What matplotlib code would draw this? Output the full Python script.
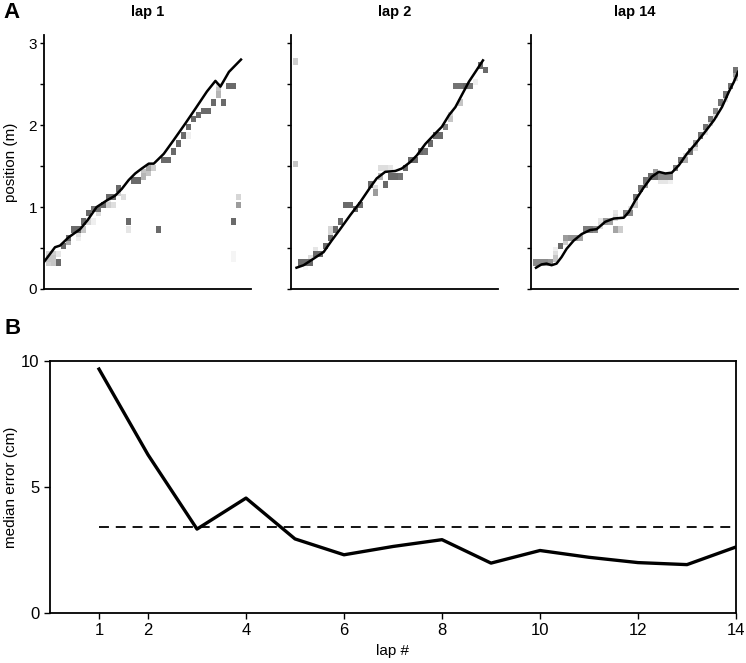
import numpy as np
import matplotlib
matplotlib.use("Agg")
import matplotlib.pyplot as plt
from matplotlib.colors import LinearSegmentedColormap

plt.rcParams['font.family'] = ['Liberation Sans', 'DejaVu Sans']

# ---- panel A: actual position (line) per lap, t in decoding bins ----
lap1_t = [-0.4, 1.8, 2.8, 4.5, 6.8, 8.3, 10.1, 12.1, 13.8, 15.1, 16.5, 17.8, 19.1, 20.5,
          21.5, 23.5, 25.5, 27.8, 29.8, 32.1, 33.8, 34.8, 36.5, 38.9]
lap1_pos = [0.33, 0.51, 0.53, 0.63, 0.73, 0.84, 1.0, 1.08, 1.14, 1.22, 1.33, 1.41, 1.47, 1.53,
            1.53, 1.65, 1.82, 2.02, 2.20, 2.41, 2.54, 2.47, 2.65, 2.80]

lap2_t = [0.7, 2.1, 4.1, 6.1, 7.7, 9.4, 11.4, 13.4, 15.4, 16.7, 18.4, 20.4, 21.7, 23.4,
          24.7, 26.4, 28.1, 29.7, 31.1, 32.4, 33.7, 35.1, 36.4, 37.9]
lap2_pos = [0.26, 0.29, 0.37, 0.45, 0.59, 0.73, 0.90, 1.06, 1.24, 1.35, 1.43, 1.44, 1.47, 1.55,
            1.63, 1.77, 1.88, 1.98, 2.12, 2.22, 2.37, 2.53, 2.65, 2.79]

lap14_t = [0.6, 1.7, 2.7, 3.7, 4.7, 5.7, 6.7, 8.1, 9.7, 11.4, 12.7, 14.4, 16.1, 18.1, 19.1,
           20.4, 22.1, 23.7, 25.1, 26.4, 27.7, 29.1, 30.7, 32.4, 34.1, 36.1, 37.7, 39.1, 40.1, 40.9]
lap14_pos = [0.26, 0.30, 0.31, 0.29, 0.31, 0.39, 0.49, 0.59, 0.67, 0.72, 0.73, 0.82, 0.86, 0.87, 0.94,
             1.08, 1.24, 1.37, 1.43, 1.41, 1.42, 1.51, 1.65, 1.77, 1.90, 2.06, 2.22, 2.41, 2.53, 2.65]

# ---- decoded posterior cells: (time bin, position bin of 5 cm, darkness 0-1) ----
lap1_cells = [(0, 6, .3), (0, 7, .35), (0, 8, .25), (1, 6, .35), (1, 7, .35), (1, 8, .3),
              (2, 6, .9), (2, 8, .15), (3, 10, .9), (4, 11, .5), (4, 12, .9),
              (5, 14, .9), (6, 14, .9), (6, 13, .2), (6, 12, .1), (7, 14, .35),
              (7, 16, .9), (8, 18, .9), (8, 16, .25), (9, 16, .1), (9, 19, .85), (10, 19, .85),
              (10, 18, .2), (11, 20, .9), (12, 20, .3), (12, 21, .15), (12, 22, .9), (13, 22, .9),
              (13, 20, .2), (14, 24, .9), (14, 23, .3), (15, 22, .2), (16, 16, .9), (16, 14, .15),
              (17, 26, .9), (18, 26, .9), (19, 27, .45), (19, 28, .35), (20, 29, .55), (20, 28, .35),
              (21, 29, .3), (22, 14, .9), (23, 31, .9), (24, 31, .9), (25, 33, .9), (26, 35, .9),
              (27, 37, .9), (28, 37, .1), (28, 39, .9), (29, 41, .9), (30, 42, .9), (31, 43, .9),
              (32, 43, .9), (33, 45, .9), (34, 47, .45), (34, 48, .35), (34, 49, .2), (35, 45, .9),
              (36, 49, .9), (37, 49, .9), (37, 16, .9), (38, 22, .25), (38, 20, .6),
              (37, 7, .06), (37, 8, .06)]

lap2_cells = [(0, 55, .3), (0, 30, .35), (1, 6, .9), (2, 6, .9), (3, 6, .9), (3, 7, .2), (2, 5, .05),
              (4, 8, .9), (5, 8, .9), (4, 9, .15), (6, 10, .9), (7, 12, .9), (7, 13, .25), (7, 14, .25),
              (8, 14, .9), (9, 16, .9), (10, 20, .9), (11, 20, .9), (12, 19, .9), (13, 20, .9),
              (15, 25, .9), (16, 23, .6), (16, 24, .2), (17, 27, .45), (17, 29, .2), (18, 29, .2),
              (19, 29, .15), (18, 25, .9), (19, 27, .9), (20, 27, .9), (21, 27, .85), (22, 29, .9),
              (23, 31, .9), (24, 31, .9), (25, 33, .9), (26, 33, .85), (27, 35, .9), (28, 37, .9),
              (29, 37, .9), (30, 39, .75), (31, 41, .35), (31, 42, .25), (33, 45, .35),
              (32, 49, .85), (33, 49, .85), (34, 49, .9), (35, 49, .85), (36, 50, .1),
              (37, 54, .9), (38, 53, .9)]

lap14_cells = [(0, 6, .7), (1, 6, .7), (2, 6, .7), (3, 6, .65), (4, 7, .35), (4, 8, .2), (4, 9, .1),
               (5, 10, .9), (6, 11, .3), (6, 12, .6), (7, 12, .65), (8, 12, .65), (9, 12, .55),
               (10, 14, .8), (11, 14, .8), (12, 14, .7), (13, 15, .2), (13, 16, .15),
               (14, 16, .6), (15, 16, .55), (16, 17, .2), (16, 18, .15), (16, 14, .55), (17, 14, .3),
               (18, 18, .75), (19, 18, .7), (19, 19, .15), (20, 20, .35), (20, 21, .3), (20, 22, .85),
               (21, 24, .85), (22, 25, .6), (22, 26, .85), (23, 27, .9), (24, 27, .9), (24, 28, .6),
               (25, 27, .7), (26, 27, .7), (27, 27, .7), (25, 26, .15), (26, 26, .15), (27, 26, .1),
               (28, 29, .8), (29, 31, .85), (30, 31, .5), (30, 32, .2), (31, 33, .85), (32, 34, .2),
               (32, 35, .6), (33, 37, .85), (34, 39, .85), (34, 38, .15), (35, 41, .85), (35, 40, .2),
               (36, 43, .7), (36, 42, .2), (37, 45, .85), (38, 47, .85), (38, 46, .15), (39, 49, .85),
               (40, 51, .3), (40, 53, .85), (40, 52, .6)]

lap_titles = ['lap 1', 'lap 2', 'lap 14']

# ---- panel B: median decoding error per lap ----
laps = [1, 2, 3, 4, 5, 6, 7, 8, 9, 10, 11, 12, 13, 14]
median_err = [9.68, 6.28, 3.33, 4.56, 2.94, 2.31, 2.64, 2.91, 1.98, 2.48, 2.21, 2.0, 1.92, 2.62]
ref_err = 3.4

bin_m = 0.05      # position bin used for reading the cells
cell_h = 0.08     # drawn height of one decoded cell (m)
cmap = LinearSegmentedColormap.from_list('post', ['#ffffff', '#5a5a5a'])

fig = plt.figure(figsize=(7.46, 6.63), dpi=100)
W, H = 746, 663
panels = [(44, lap1_t, lap1_pos, lap1_cells),
          (291, lap2_t, lap2_pos, lap2_cells),
          (531, lap14_t, lap14_pos, lap14_cells)]

for j, (x0, lt, lp, cells) in enumerate(panels):
    ax = fig.add_axes([x0 / W, 1 - 289 / H, 207 / W, (289 - 35) / H])
    # light cells first so the dark ones sit on top
    for i, k, v in sorted(cells, key=lambda c: c[2]):
        ax.bar(i + 0.5, cell_h, width=1.0, bottom=(k + 0.5) * bin_m - cell_h / 2,
               color=cmap(v), linewidth=0)
    ax.plot(lt, lp, color='black', lw=1.8, solid_joinstyle='round')
    ax.set_xlim(-0.4, 40.9)
    ax.set_ylim(0, 3.1)
    ax.set_yticks(np.arange(0, 3.01, 0.5))
    if j == 0:
        ax.set_yticklabels(['0', '', '1', '', '2', '', '3'], fontsize=11)
        ax.set_ylabel('position (m)', fontsize=11)
        ax.yaxis.set_label_coords(-0.128, 0.5)
    else:
        ax.set_yticklabels([])
    ax.set_xticks([])
    ax.tick_params(axis='y', direction='out', length=3, width=1, pad=2)
    for s in ['top', 'right']:
        ax.spines[s].set_visible(False)
    for s in ['left', 'bottom']:
        ax.spines[s].set_linewidth(1.3)
    ax.set_title(lap_titles[j], fontweight='bold', fontsize=10.5, pad=14)

axb = fig.add_axes([50 / W, 1 - 613 / H, 686 / W, 252 / H])
axb.plot(laps, median_err, color='black', lw=2.4)
axb.plot([laps[0], laps[-1]], [ref_err, ref_err], color='black', lw=1.3, dashes=(5.5, 3.8))
axb.set_xlim(0, 14)
axb.set_ylim(0, 10)
axb.set_xticks([1, 2, 4, 6, 8, 10, 12, 14])
axb.set_yticks([0, 5, 10])
axb.tick_params(direction='out', length=4, width=1, labelsize=12)
for s in axb.spines.values():
    s.set_linewidth(1.3)
axb.set_xlabel('lap #', fontsize=11, labelpad=4)
axb.set_ylabel('median error (cm)', fontsize=11)
axb.yaxis.set_label_coords(-0.047, 0.5)

fig.text(0.004, 0.997, 'A', fontweight='bold', fontsize=16, va='top')
fig.text(0.006, 1 - 318 / H, 'B', fontweight='bold', fontsize=16, va='top')

fig.savefig('out.png', dpi=100)
